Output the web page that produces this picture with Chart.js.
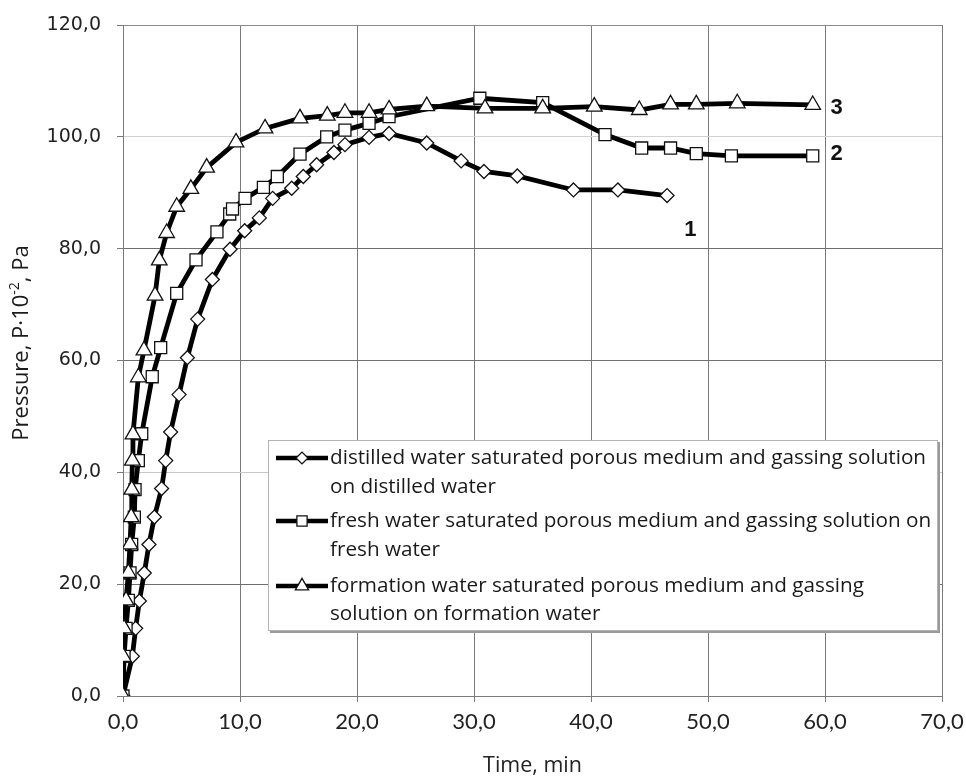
<!DOCTYPE html>
<html><head><meta charset="utf-8">
<script src="https://cdn.jsdelivr.net/npm/chart.js@4.4.1/dist/chart.umd.min.js"></script>
<style>html,body{margin:0;padding:0;background:#fff}#wrap{width:966px;height:781px;position:relative}</style>
</head><body><div id="wrap"><canvas id="c" width="966" height="781"></canvas></div>
<script>
// ---- data ----
const xTickValues = [0, 10, 20, 30, 40, 50, 60, 70];
const yTickValues = [0, 20, 40, 60, 80, 100, 120];

const distilledTime = [0, 0.8, 1.08, 1.4, 1.82, 2.22, 2.68, 3.3, 3.65, 4.07, 4.79, 5.5, 6.38, 7.64, 9.15, 10.4, 11.65, 12.79, 14.42, 15.41, 16.55, 18.03, 18.97, 21.03, 22.74, 25.96, 28.9, 30.85, 33.7, 38.5, 42.3, 46.5];
const distilledPressure = [0, 7.1, 12.1, 17.0, 22.0, 27.1, 32.0, 37.1, 42.1, 47.2, 53.9, 60.5, 67.4, 74.5, 79.9, 83.2, 85.5, 89.0, 90.8, 92.9, 95.0, 97.2, 98.6, 99.9, 100.6, 98.9, 95.7, 93.8, 93.0, 90.5, 90.5, 89.5];

const freshTime = [0, 0.09, 0.26, 0.46, 0.6, 0.74, 0.97, 1.03, 1.31, 1.6, 2.5, 3.22, 4.59, 6.24, 8.03, 9.12, 9.36, 10.43, 12.0, 13.19, 15.13, 17.41, 18.97, 21.03, 22.74, 30.5, 35.87, 41.2, 44.33, 46.8, 49.0, 52.0, 58.95];
const freshPressure = [0, 7.1, 12.1, 17.1, 22.0, 27.1, 32.0, 36.9, 42.1, 46.9, 57.1, 62.3, 72.0, 78.0, 83.0, 86.2, 87.1, 89.0, 90.95, 92.9, 96.9, 100.0, 101.2, 102.4, 103.6, 106.9, 106.1, 100.4, 98.0, 98.0, 97.0, 96.6, 96.6];

const formationTime = [0, 0.03, 0.09, 0.26, 0.46, 0.6, 0.7, 0.75, 0.8, 0.85, 1.31, 1.79, 2.74, 3.1, 3.73, 4.59, 5.8, 7.15, 9.66, 12.14, 15.13, 17.46, 18.97, 21.03, 22.74, 25.96, 30.94, 35.87, 40.28, 44.13, 46.8, 49.0, 52.5, 58.95];
const formationPressure = [0, 7.0, 12.1, 17.1, 22.0, 27.1, 32.0, 36.9, 42.1, 46.8, 57.0, 61.8, 71.6, 77.9, 82.8, 87.5, 90.7, 94.5, 99.0, 101.5, 103.3, 103.8, 104.3, 104.3, 104.9, 105.5, 105.1, 105.1, 105.4, 104.8, 105.8, 105.8, 106.0, 105.7];

const legendLines1 = ["distilled water saturated porous medium and gassing solution", "on distilled water"];
const legendLines2 = ["fresh water saturated porous medium and gassing solution on", "fresh water"];
const legendLines3 = ["formation water saturated porous medium and gassing", "solution on formation water"];

const curveLabelText = ["1", "2", "3"];
const curveLabelTime = [48.5, 61.0, 61.0];
const curveLabelPressure = [83.4, 97.0, 105.2];

const xTitle = "Time, min";
const yTitleParts = ["Pressure, P\u00B710", "-2", ", Pa"];

// ---- build ----
const toPts = (xs, ys) => xs.map((x, i) => ({x: x, y: ys[i]}));
const fmt = v => v.toFixed(1).replace('.', ',');
const SANS = "'Open Sans', Lato, sans-serif";

const seriesStyle = [
  {style: 'rectRot', r: 7},
  {style: 'rect', r: 8.5},
  {style: 'triangle', r: 9}
];
function ds(label, xs, ys, st, order) {
  return {
    label: label, data: toPts(xs, ys), showLine: true, tension: 0,
    borderColor: '#000', borderWidth: 4.8,
    pointStyle: st.style, pointRadius: st.r, pointHoverRadius: st.r,
    pointBackgroundColor: '#fff', pointBorderColor: '#111', pointBorderWidth: 1.3,
    order: order
  };
}
const legendLines = [legendLines1, legendLines2, legendLines3];

const yGridColor = {0: '#7a7a7a', 20: '#6e6e6e', 40: '#c8c8c8', 60: '#707070', 80: '#6e6e6e', 100: '#d2d2d2', 120: '#8a8a8a'};

const overlay = {
  id: 'overlay',
  afterDraw(chart) {
    const ctx = chart.ctx;
    const xs = chart.scales.x, ys = chart.scales.y;
    ctx.save();
    // curve labels
    ctx.font = "bold 22px 'Liberation Sans', Arial, sans-serif";
    ctx.fillStyle = '#111';
    ctx.textAlign = 'center'; ctx.textBaseline = 'middle';
    curveLabelText.forEach((t, i) => {
      ctx.fillText(t, xs.getPixelForValue(curveLabelTime[i]), ys.getPixelForValue(curveLabelPressure[i]));
    });
    // legend box
    const L = 268, T = 440, R = 938, B = 631;
    ctx.fillStyle = '#9a9a9a';
    ctx.fillRect(L + 2, T + 2, R - L, B - T);
    ctx.fillStyle = '#fff';
    ctx.fillRect(L, T, R - L, B - T);
    ctx.strokeStyle = '#b4b4b4'; ctx.lineWidth = 1;
    ctx.strokeRect(L + 0.5, T + 0.5, R - L - 1, B - T - 1);
    const rowY = [[458, 487], [521, 550], [586, 614]];
    chart.data.datasets.forEach((d, i) => {
      const y0 = rowY[i][0];
      ctx.strokeStyle = '#000'; ctx.lineWidth = 4.5;
      ctx.beginPath(); ctx.moveTo(276, y0); ctx.lineTo(328, y0); ctx.stroke();
      ctx.fillStyle = '#fff'; ctx.strokeStyle = '#111'; ctx.lineWidth = 1.3;
      Chart.helpers.drawPoint(ctx, {pointStyle: d.pointStyle, radius: d.pointRadius * 0.85, borderWidth: 1.3, rotation: 0}, 302, y0);
      ctx.fillStyle = '#1a1a1a';
      ctx.font = "20.7px " + SANS;
      ctx.textAlign = 'left'; ctx.textBaseline = 'middle';
      legendLines[i].forEach((ln, k) => ctx.fillText(ln, 330, rowY[i][k]));
    });
    // y title
    ctx.translate(22, 343);
    ctx.rotate(-Math.PI / 2);
    ctx.fillStyle = '#1a1a1a';
    ctx.textBaseline = 'middle'; ctx.textAlign = 'left';
    const fMain = "22px " + SANS, fSup = "14px " + SANS;
    ctx.font = fMain; const w1 = ctx.measureText(yTitleParts[0]).width; const w3 = ctx.measureText(yTitleParts[2]).width;
    ctx.font = fSup; const w2 = ctx.measureText(yTitleParts[1]).width;
    let sx = -(w1 + w2 + w3) / 2;
    ctx.font = fMain; ctx.fillText(yTitleParts[0], sx, 0); sx += w1;
    ctx.font = fSup; ctx.fillText(yTitleParts[1], sx, -7); sx += w2;
    ctx.font = fMain; ctx.fillText(yTitleParts[2], sx, 0);
    ctx.restore();
  }
};

new Chart(document.getElementById('c'), {
  type: 'scatter',
  data: {
    datasets: [
      ds(legendLines1.join(' '), distilledTime, distilledPressure, seriesStyle[0], 3),
      ds(legendLines2.join(' '), freshTime, freshPressure, seriesStyle[1], 2),
      ds(legendLines3.join(' '), formationTime, formationPressure, seriesStyle[2], 1)
    ]
  },
  options: {
    responsive: false, animation: false, devicePixelRatio: 1,
    layout: {padding: {top: 25, right: 24, left: 0, bottom: 0}},
    plugins: {legend: {display: false}, tooltip: {enabled: false}},
    scales: {
      x: {
        type: 'linear', min: xTickValues[0], max: xTickValues[xTickValues.length - 1],
        afterBuildTicks: s => { s.ticks = xTickValues.map(v => ({value: v})); },
        afterFit: s => { s.height = 85; s.paddingRight = 0; s.paddingLeft = 0; },
        ticks: {callback: v => fmt(v), font: {family: "Lato, sans-serif", size: 22}, color: '#222', padding: 7, maxRotation: 0},
        grid: {color: '#7a7a7a', lineWidth: 1, tickLength: 6, tickColor: '#7a7a7a'},
        border: {color: '#7a7a7a'},
        title: {display: true, text: xTitle, font: {family: SANS, size: 21.5}, color: '#222', padding: {top: 0, bottom: 2}}
      },
      y: {
        type: 'linear', min: yTickValues[0], max: yTickValues[yTickValues.length - 1],
        afterBuildTicks: s => { s.ticks = yTickValues.map(v => ({value: v})); },
        afterFit: s => { s.width = 123; s.paddingTop = 0; s.paddingBottom = 0; },
        ticks: {callback: v => fmt(v), font: {family: "'DejaVu Sans', Verdana, sans-serif", size: 19}, color: '#222', padding: 16},
        grid: {color: c => yGridColor[c.tick ? c.tick.value : 0] || '#7a7a7a', lineWidth: 1, tickLength: 6, tickColor: '#7a7a7a'},
        border: {color: '#7a7a7a'}
      }
    }
  },
  plugins: [overlay]
});
</script></body></html>
